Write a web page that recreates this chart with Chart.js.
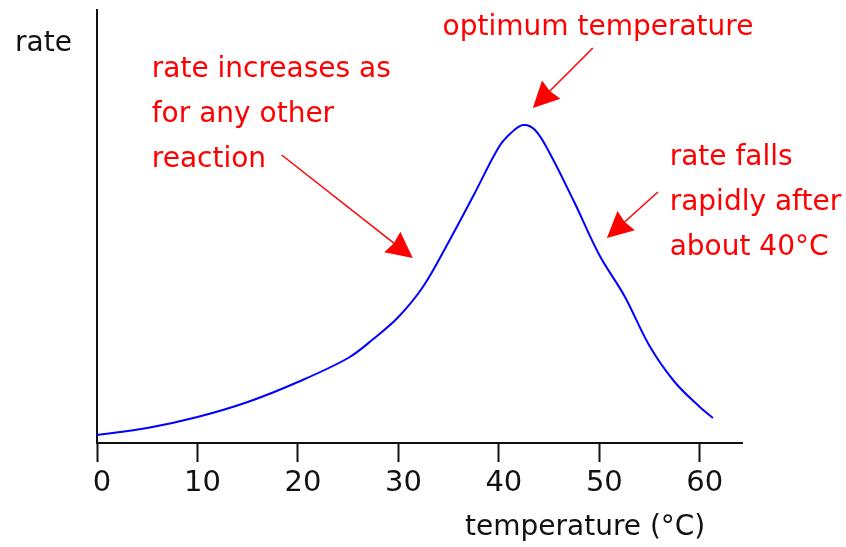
<!DOCTYPE html>
<html>
<head>
<meta charset="utf-8">
<script src="https://cdn.jsdelivr.net/npm/chart.js@4/dist/chart.umd.min.js"></script>
<style>
  html, body { margin: 0; padding: 0; background: #fff; }
  canvas { display: block; }
</style>
</head>
<body>
<canvas id="c" width="846" height="547"></canvas>
<script>
// ---- data (temperature in °C, rate in arbitrary units) ----
const temps = [0, 5, 10, 15, 20, 25, 27.5, 30, 32.5, 35, 37.5, 40, 41.2, 42.4, 43.6, 45, 47.5, 50, 52.5, 55, 57.5, 60, 61.3];
const rates = [8, 15, 26, 41, 61, 85, 104, 126, 157, 201, 248, 296, 310, 318, 313, 291, 241, 188, 147, 97, 61, 36, 25];
const tickValues = [0, 10, 20, 30, 40, 50, 60];
const xMax = 64.2;
const yMax = 433;

const xTitle = 'temperature (°C)';
const yTitle = 'rate';

// annotations in data coordinates (temperature, rate)
const noteTexts = [
  { lines: ['rate increases as', 'for any other', 'reaction'], t: 5.45, r: 366.5 },
  { lines: ['optimum temperature'], t: 34.4, r: 408 },
  { lines: ['rate falls', 'rapidly after', 'about 40°C'], t: 57.0, r: 278 }
];
const noteArrows = [
  { from: [18.38, 288], to: [31.43, 185] },
  { from: [49.35, 395], to: [43.38, 335] },
  { from: [55.83, 251], to: [50.75, 205] }
];

const FONT = "'DejaVu Sans', sans-serif";
const RED = '#ff0000';

const annotationPlugin = {
  id: 'notes',
  afterDraw(chart) {
    const ctx = chart.ctx;
    const xs = chart.scales.x, ys = chart.scales.y;
    const area = chart.chartArea;
    ctx.save();
    // axis titles
    ctx.fillStyle = '#111';
    ctx.font = '28px ' + FONT;
    ctx.textAlign = 'left';
    ctx.textBaseline = 'alphabetic';
    ctx.fillText(yTitle, 15, area.top + 41);
    ctx.fillText(xTitle, area.left + 368, area.bottom + 92);

    // red texts
    ctx.fillStyle = RED;
    noteTexts.forEach(n => {
      const x = xs.getPixelForValue(n.t);
      const y = ys.getPixelForValue(n.r);
      n.lines.forEach((ln, i) => ctx.fillText(ln, x, y + i * 45));
    });

    // arrows
    ctx.strokeStyle = RED;
    ctx.lineWidth = 1.5;
    const headLen = 26, half = 13;
    noteArrows.forEach(a => {
      const x1 = xs.getPixelForValue(a.from[0]), y1 = ys.getPixelForValue(a.from[1]);
      const x2 = xs.getPixelForValue(a.to[0]), y2 = ys.getPixelForValue(a.to[1]);
      const dx = x2 - x1, dy = y2 - y1, L = Math.hypot(dx, dy);
      const ux = dx / L, uy = dy / L;
      const bx = x2 - ux * headLen, by = y2 - uy * headLen;
      ctx.beginPath();
      ctx.moveTo(x1, y1);
      ctx.lineTo(bx + ux * 4, by + uy * 4);
      ctx.stroke();
      ctx.beginPath();
      ctx.moveTo(x2, y2);
      ctx.lineTo(bx - uy * half, by + ux * half);
      ctx.lineTo(bx + ux * 2, by + uy * 2);
      ctx.lineTo(bx + uy * half, by - ux * half);
      ctx.closePath();
      ctx.fill();
    });
    ctx.restore();
  }
};

new Chart(document.getElementById('c'), {
  type: 'line',
  data: {
    datasets: [{
      data: temps.map((t, i) => ({ x: t, y: rates[i] })),
      borderColor: '#0000ff',
      borderWidth: 2,
      pointRadius: 0,
      tension: 0.35,
      fill: false
    }]
  },
  options: {
    responsive: false,
    devicePixelRatio: 1,
    animation: false,
    layout: { padding: { top: 10, right: 104, left: 0, bottom: 0 } },
    plugins: { legend: { display: false }, tooltip: { enabled: false } },
    scales: {
      x: {
        type: 'linear',
        min: 0,
        max: xMax,
        afterBuildTicks: s => { s.ticks = tickValues.map(v => ({ value: v })); },
        afterFit: s => { s.height = 104; },
        grid: { display: true, drawOnChartArea: false, drawTicks: true, tickLength: 19, tickWidth: 2, tickColor: '#111' },
        border: { display: true, color: '#111', width: 2 },
        ticks: {
          font: { family: FONT, size: 29 },
          color: '#111',
          padding: 4,
          labelOffset: 5,
          maxRotation: 0,
          autoSkip: false
        }
      },
      y: {
        min: 0,
        max: yMax,
        afterFit: s => { s.width = 97; },
        grid: { display: false },
        border: { display: true, color: '#111', width: 2 },
        ticks: { display: false }
      }
    }
  },
  plugins: [annotationPlugin]
});
</script>
</body>
</html>
